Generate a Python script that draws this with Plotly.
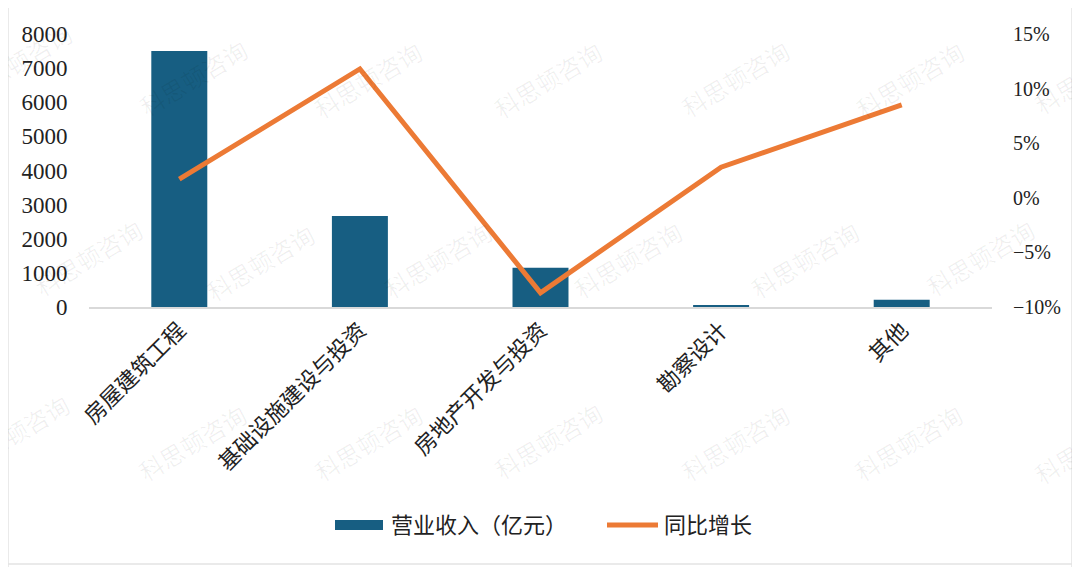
import plotly.graph_objects as go

categories = ["房屋建筑工程", "基础设施建设与投资", "房地产开发与投资", "勘察设计", "其他"]
revenue = [7500, 2670, 1150, 30, 210]          # 营业收入（亿元）
growth = [1.7, 11.8, -8.7, 2.8, 8.5]            # 同比增长 (%)
left_ticks = [0, 1000, 2000, 3000, 4000, 5000, 6000, 7000, 8000]
right_ticks = [-10, -5, 0, 5, 10, 15]
right_labels = ["−10%", "−5%", "0%", "5%", "10%", "15%"]
legend_names = ["营业收入（亿元）", "同比增长"]
watermark = "科思顿咨询"

OFF = 8  # page body margin
W, H = 1080 - OFF, 567 - OFF
L, R, T, B = 81, 88, 26, 260
PW, PH = W - L - R, H - T - B

BLUE = "#175E82"
ORANGE = "#EC7A35"
FONT = "Liberation Serif, Noto Sans CJK SC, serif"


def px(x):  # screen x -> paper
    return (x - OFF - L) / PW


def py(y):  # screen y -> paper
    return (H - B - (y - OFF)) / PH


fig = go.Figure()
fig.add_trace(go.Bar(x=categories, y=revenue, name=legend_names[0],
                     marker=dict(color=BLUE, line=dict(width=0)),
                     width=0.31, showlegend=False, yaxis="y"))
fig.add_trace(go.Scatter(x=categories, y=growth, name=legend_names[1],
                         mode="lines", line=dict(color=ORANGE, width=5),
                         showlegend=False, yaxis="y2"))

# watermarks (screen-pixel centres)
wm_pos = [(18, 62), (193, 77), (368, 80), (548, 80), (735, 78), (910, 80), (1088, 75),
          (88, 257), (260, 262), (438, 260), (628, 260), (805, 260), (980, 257),
          (15, 432), (192, 442), (368, 442), (548, 440), (735, 442), (908, 442), (1088, 445)]
for (x, y) in wm_pos:
    fig.add_annotation(x=px(x), y=py(y), xref="paper", yref="paper", text=watermark,
                       showarrow=False, textangle=-31, xanchor="center", yanchor="middle",
                       font=dict(family="Noto Sans CJK SC", size=24, color="rgba(0,0,0,0.06)"))

# legend (manual)
fig.add_shape(type="rect", xref="paper", yref="paper",
              x0=px(335), x1=px(383), y0=py(530), y1=py(520),
              fillcolor=BLUE, line=dict(width=0))
fig.add_shape(type="line", xref="paper", yref="paper",
              x0=px(607), x1=px(658), y0=py(525), y1=py(525),
              line=dict(color=ORANGE, width=5))
fig.add_annotation(x=px(389), y=py(525), xref="paper", yref="paper", text=legend_names[0],
                   showarrow=False, xanchor="left", yanchor="middle",
                   font=dict(family=FONT, size=22, color="#222"))
fig.add_annotation(x=px(662), y=py(525), xref="paper", yref="paper", text=legend_names[1],
                   showarrow=False, xanchor="left", yanchor="middle",
                   font=dict(family=FONT, size=22, color="#222"))

# frame lines
for (x0, y0, x1, y1) in [(8, 0, 8, 567), (1072, 0, 1072, 567), (8, 564, 1072, 564)]:
    fig.add_shape(type="line", xref="paper", yref="paper",
                  x0=px(x0), y0=py(y0), x1=px(x1), y1=py(y1),
                  line=dict(color="#E3E3E3", width=1.5))

fig.update_layout(
    width=W, height=H,
    margin=dict(l=L, r=R, t=T, b=B, autoexpand=False),
    paper_bgcolor="white", plot_bgcolor="white",
    font=dict(family=FONT, size=21, color="#222"),
    bargap=0.69,
    xaxis=dict(showline=True, linecolor="#D9D9D9", linewidth=1.5, showgrid=False,
               tickangle=-45, tickfont=dict(size=22), ticks="", zeroline=False),
    yaxis=dict(range=[0, 8000], tickvals=left_ticks, showgrid=False, zeroline=False,
               showline=False, ticks="outside", ticklen=16, tickcolor="rgba(0,0,0,0)",
               tickfont=dict(size=23)),
    yaxis2=dict(range=[-10, 15], tickvals=right_ticks, ticktext=right_labels, overlaying="y",
                side="right", showgrid=False, zeroline=False, showline=False,
                ticks="outside", ticklen=16, tickcolor="rgba(0,0,0,0)",
                tickfont=dict(size=20)),
)

fig.write_html("out.html")
